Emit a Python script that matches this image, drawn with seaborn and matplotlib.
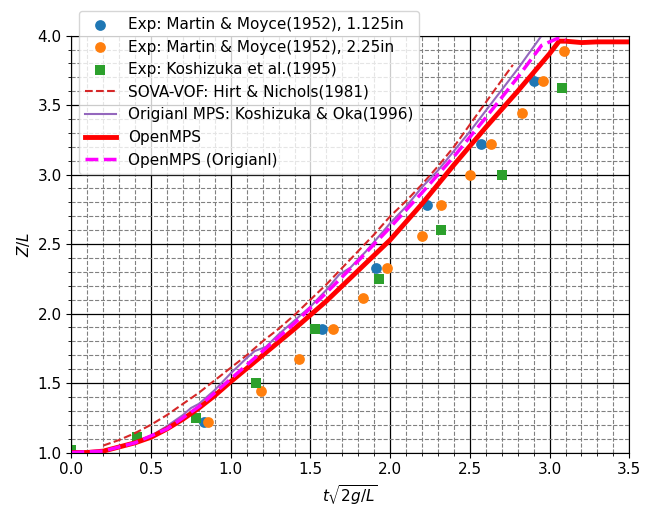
import numpy as np
import pandas as pd
import matplotlib
matplotlib.use("Agg")
import matplotlib.pyplot as plt
import seaborn as sns
from matplotlib.ticker import MultipleLocator

# ---- data ----
mm1_x = [0.835, 1.57, 1.91, 2.23, 2.57, 2.90]
mm1_y = [1.22, 1.89, 2.33, 2.78, 3.22, 3.67]

mm2_x = [0.86, 1.19, 1.43, 1.64, 1.83, 1.98, 2.20, 2.32, 2.50, 2.63, 2.83, 2.96, 3.09]
mm2_y = [1.22, 1.44, 1.67, 1.89, 2.11, 2.33, 2.56, 2.78, 3.00, 3.22, 3.44, 3.67, 3.89]

kos_x = [0.0, 0.41, 0.78, 1.16, 1.53, 1.93, 2.32, 2.70, 3.08]
kos_y = [1.02, 1.11, 1.25, 1.50, 1.89, 2.25, 2.60, 3.00, 3.62]

vof_x = [0.2, 0.3, 0.4, 0.5, 0.6, 0.7, 0.8, 0.9, 1.0, 1.1, 1.2, 1.3, 1.4, 1.5,
         1.6, 1.7, 1.8, 1.9, 2.0, 2.1, 2.2, 2.3, 2.4, 2.5, 2.6, 2.7, 2.77]
vof_y = [1.05, 1.09, 1.14, 1.20, 1.27, 1.35, 1.43, 1.52, 1.61, 1.70, 1.80, 1.89, 1.99, 2.10,
         2.21, 2.33, 2.45, 2.57, 2.70, 2.81, 2.93, 3.06, 3.20, 3.36, 3.52, 3.68, 3.79]

mps_x = [0.0, 0.2, 0.4, 0.5, 0.6, 0.7, 0.75, 0.8, 0.9, 1.0, 1.1, 1.15, 1.22, 1.3, 1.4, 1.5,
         1.6, 1.68, 1.75, 1.85, 2.0, 2.1, 2.2, 2.3, 2.4, 2.5, 2.6, 2.7, 2.8, 2.9, 2.95, 3.0]
mps_y = [1.0, 1.01, 1.07, 1.12, 1.19, 1.27, 1.32, 1.35, 1.45, 1.57, 1.68, 1.73, 1.76, 1.85, 1.95, 2.05,
         2.17, 2.28, 2.33, 2.45, 2.65, 2.77, 2.91, 3.03, 3.17, 3.31, 3.46, 3.61, 3.76, 3.92, 4.0, 4.08]

omps_x = [0.0, 0.1, 0.2, 0.3, 0.4, 0.5, 0.6, 0.7, 0.8, 0.9, 1.0, 1.2, 1.4, 1.6, 1.8, 2.0,
          2.2, 2.4, 2.6, 2.8, 3.0, 3.06, 3.1, 3.2, 3.3, 3.4, 3.5]
omps_y = [1.0, 1.0, 1.01, 1.04, 1.07, 1.11, 1.17, 1.24, 1.32, 1.41, 1.51, 1.70, 1.89, 2.09, 2.31, 2.53,
          2.79, 3.07, 3.34, 3.60, 3.87, 3.96, 3.96, 3.95, 3.955, 3.955, 3.955]

ompso_x = [0.0, 0.2, 0.4, 0.6, 0.8, 1.0, 1.2, 1.4, 1.6, 1.8, 2.0, 2.2, 2.4, 2.6, 2.8, 2.95, 3.05, 3.1]
ompso_y = [1.0, 1.01, 1.07, 1.17, 1.33, 1.53, 1.73, 1.93, 2.15, 2.38, 2.62, 2.87, 3.13, 3.41, 3.70, 3.93, 3.98, 3.97]

labels = ["Exp: Martin & Moyce(1952), 1.125in",
          "Exp: Martin & Moyce(1952), 2.25in",
          "Exp: Koshizuka et al.(1995)",
          "SOVA-VOF: Hirt & Nichols(1981)",
          "Origianl MPS: Koshizuka & Oka(1996)",
          "OpenMPS",
          "OpenMPS (Origianl)"]

plt.rcParams["font.size"] = 11

fig = plt.figure(figsize=(6.61, 5.09), dpi=100)
ax = fig.add_axes([0.108, 0.111, 0.844, 0.819])

sns.scatterplot(x=mm1_x, y=mm1_y, ax=ax, marker="o", s=60, color="#1f77b4",
                linewidth=0, label=labels[0])
sns.scatterplot(x=mm2_x, y=mm2_y, ax=ax, marker="o", s=60, color="#ff7f0e",
                linewidth=0, label=labels[1])
sns.scatterplot(x=kos_x, y=kos_y, ax=ax, marker="s", s=60, color="#2ca02c",
                linewidth=0, label=labels[2])
sns.lineplot(x=vof_x, y=vof_y, ax=ax, sort=False, estimator=None, color="#d62728",
             linestyle="--", linewidth=1.5, label=labels[3])
sns.lineplot(x=mps_x, y=mps_y, ax=ax, sort=False, estimator=None, color="#9467bd",
             linewidth=1.5, label=labels[4])
sns.lineplot(x=omps_x, y=omps_y, ax=ax, sort=False, estimator=None, color="red",
             linewidth=3.5, label=labels[5])
sns.lineplot(x=ompso_x, y=ompso_y, ax=ax, sort=False, estimator=None, color="magenta",
             linestyle="--", linewidth=2.5, label=labels[6])

ax.set_xlim(0, 3.5)
ax.set_ylim(1.0, 4.0)
ax.xaxis.set_major_locator(MultipleLocator(0.5))
ax.yaxis.set_major_locator(MultipleLocator(0.5))
ax.xaxis.set_minor_locator(MultipleLocator(0.1))
ax.yaxis.set_minor_locator(MultipleLocator(0.1))
ax.grid(which="major", color="black", linestyle="-", linewidth=0.9)
ax.grid(which="minor", color="gray", linestyle="--", linewidth=0.8)
ax.set_axisbelow(True)

ax.set_xlabel(r"$t\sqrt{2g/L}$")
ax.set_ylabel(r"$Z/L$")

ax.legend(loc="upper left", bbox_to_anchor=(0.0, 1.078), fontsize=11, framealpha=0.8)

fig.savefig("out.png", dpi=100)
